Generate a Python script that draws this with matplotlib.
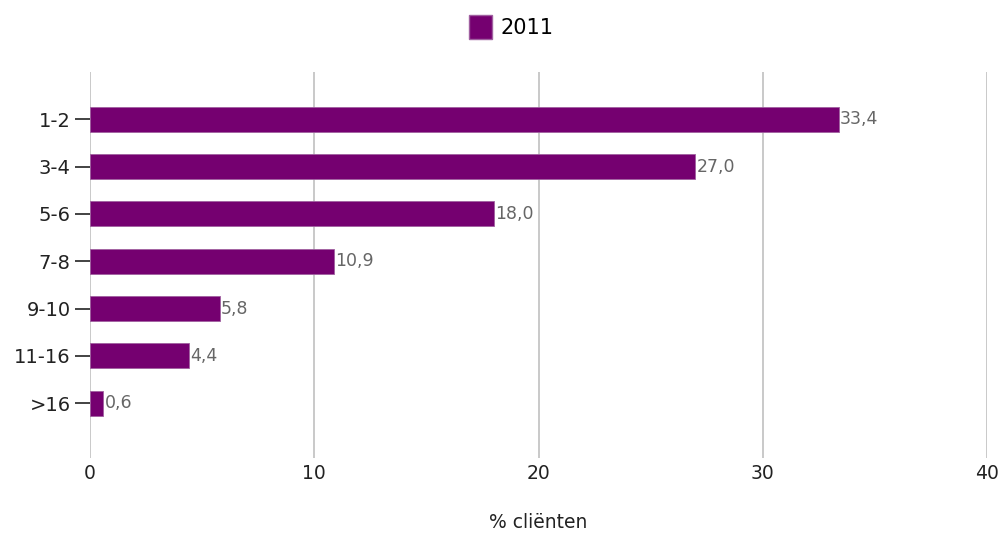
import matplotlib.pyplot as plt
from matplotlib.patches import Patch

# Share of clients per group
categories = ["1-2", "3-4", "5-6", "7-8", "9-10", "11-16", ">16"]
values = [33.4, 27.0, 18.0, 10.9, 5.8, 4.4, 0.6]
series_name = "2011"
xticks = [0, 10, 20, 30, 40]

bar_color = "#750070"

fig = plt.figure(figsize=(10.03, 5.34), dpi=100)
ax = fig.add_axes([90 / 1003, 1 - 458 / 534, 897 / 1003, 386 / 534])

ypos = list(range(len(categories)))
ax.barh(ypos, values, height=0.53, color=bar_color, edgecolor="#a060a0",
        linewidth=0.6, zorder=3)

# value labels with decimal comma
for y, v in zip(ypos, values):
    ax.text(v + 0.05, y, f"{v:.1f}".replace(".", ","), va="center", ha="left",
            fontsize=12.5, color="#666666", zorder=4)

ax.set_xlim(0, 40)
ax.set_ylim(7.16, -1)
ax.set_xticks(xticks)
ax.set_xticklabels([str(t) for t in xticks], fontsize=13.5, color="#222222")
ax.set_yticks(ypos)
ax.set_yticklabels(categories, fontsize=14, color="#222222")
ax.tick_params(axis="x", length=0, pad=4)
ax.tick_params(axis="y", length=11, width=1.2, color="#222222", pad=3)

ax.grid(axis="x", color="#c0c0c0", linewidth=1.2, zorder=0)
for s in ax.spines.values():
    s.set_visible(False)

ax.set_xlabel("% cliënten", fontsize=13.5, color="#222222")
ax.xaxis.set_label_coords(0.5, -64 / 386)
ax.xaxis.label.set_va("center")

fig.legend(handles=[Patch(facecolor=bar_color, edgecolor="#a060a0", label=series_name)],
           loc="center", bbox_to_anchor=(0.51, 1 - 27 / 534), frameon=False,
           fontsize=15, handlelength=1.1, handleheight=1.4, handletextpad=0.4)

fig.savefig("out.png", dpi=100)
